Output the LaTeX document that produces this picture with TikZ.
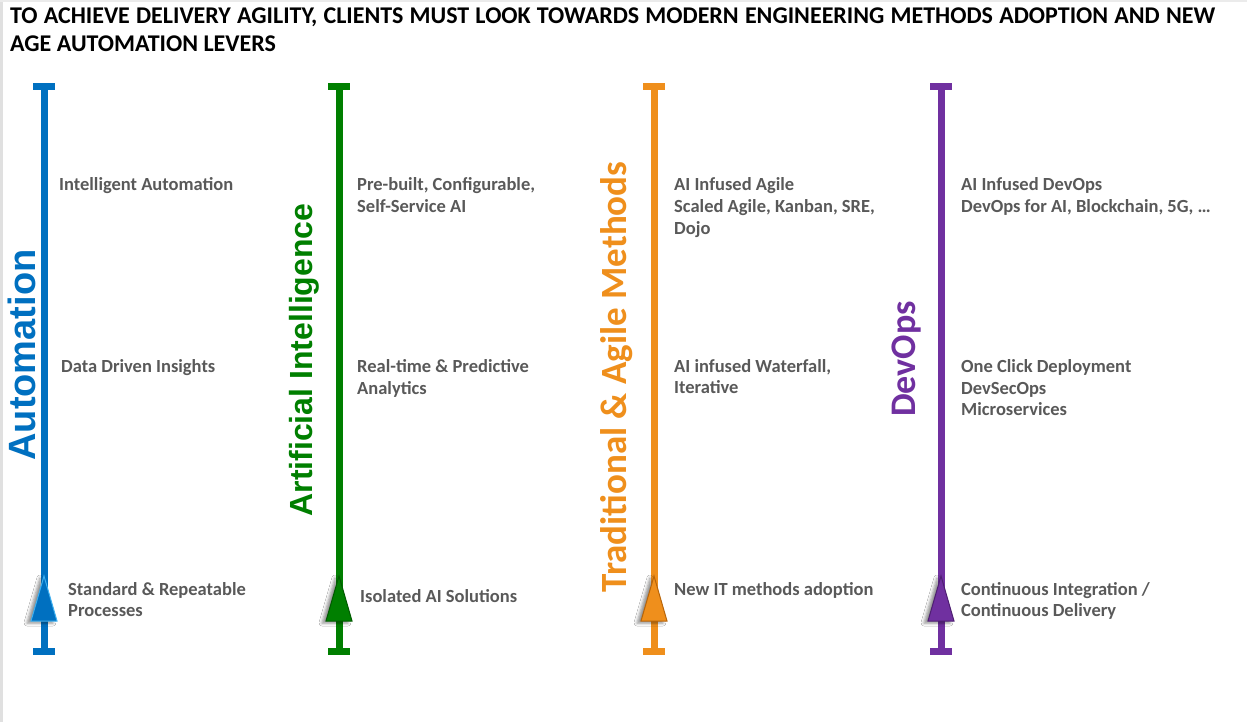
\documentclass[tikz,border=0pt]{standalone}
\usepackage{fontspec}
\setmainfont{Carlito}
\newfontfamily\arialfont{Liberation Sans}
\usetikzlibrary{shadows.blur}

\definecolor{autoblue}{HTML}{0070C0}
\definecolor{autoedge}{HTML}{3FB0F0}
\definecolor{aigreen}{HTML}{007F00}
\definecolor{aiedge}{HTML}{005A00}
\definecolor{agileorange}{HTML}{EF8F1C}
\definecolor{agileedge}{HTML}{B8650A}
\definecolor{devpurple}{HTML}{7030A0}
\definecolor{devedge}{HTML}{4E1F72}
\definecolor{textgray}{HTML}{595959}

\tikzset{
  item/.style={anchor=base west, inner sep=0pt, text=textgray,
    font=\fontsize{18.5}{22}\selectfont\bfseries},
  heading/.style={anchor=base west, inner sep=0pt, text=black,
    font=\fontsize{24}{28}\selectfont\bfseries},
  lane/.style={anchor=base, inner sep=0pt, rotate=90},
  rail/.style={line width=7pt},
  tip/.style={line width=1pt, line join=miter,
    blur shadow={shadow xshift=-4pt, shadow yshift=-2pt,
      shadow blur radius=3pt, shadow opacity=45}}
}

\begin{document}
\begin{tikzpicture}[x=1pt,y=-1pt]
\useasboundingbox (0,0) rectangle (1247,722);
\fill[white] (0,0) rectangle (1247,722);
% faint page edge
\fill[black!12] (0,0) rectangle (3,722);
\fill[black!8] (0,0) rectangle (1247,2);

% heading
\node[heading] (title1) at (10,24) {\makebox[1205pt][s]{TO ACHIEVE DELIVERY AGILITY, CLIENTS MUST LOOK TOWARDS MODERN ENGINEERING METHODS ADOPTION AND NEW}};
\node[heading] (title2) at (10,52) {AGE AUTOMATION LEVERS};

% the four timelines
\foreach \x/\c/\e/\n in {44/autoblue/autoedge/a, 339/aigreen/aiedge/b, 654/agileorange/agileedge/c, 941/devpurple/devedge/d}{
  \coordinate (\n top) at (\x,87);
  \coordinate (\n bot) at (\x,651);
  \coordinate (\n apex) at (\x,576);
  \draw[rail,\c] (\n top) -- (\n bot);
  \draw[rail,\c] ([xshift=-11pt]\n top) -- ([xshift=11pt]\n top);
  \draw[rail,\c] ([xshift=-11pt]\n bot) -- ([xshift=11pt]\n bot);
  \filldraw[tip, fill=\c, draw=\e] (\n apex) -- ([xshift=-13pt,yshift=-45pt]\n apex)
    -- ([xshift=13pt,yshift=-45pt]\n apex) -- cycle;
}

% lane titles
\node[lane, text=autoblue, font=\arialfont\bfseries\fontsize{38}{44}\selectfont] (lanea) at (35,355) {Automation};
\node[lane, text=aigreen, font=\arialfont\bfseries\fontsize{32}{38}\selectfont] (laneb) at (312,360) {Artificial Intelligence};
\node[lane, text=agileorange, font=\bfseries\fontsize{37}{43}\selectfont] (lanec) at (626,377) {Traditional \& Agile Methods};
\node[lane, text=devpurple, font=\bfseries\fontsize{36}{42}\selectfont] (laned) at (915,359) {DevOps};

% Automation
\node[item] (a1) at (59,191) {Intelligent Automation};
\node[item] (a2) at (61,372) {Data Driven Insights};
\node[item] (a3) at (68,595) {Standard \& Repeatable};
\node[item] (a4) at (68,616) {Processes};

% Artificial Intelligence
\node[item] (b1) at (357,191) {Pre-built, Configurable,};
\node[item] (b2) at (357,213) {Self-Service AI};
\node[item] (b3) at (357,372) {Real-time \& Predictive};
\node[item] (b4) at (357,394) {Analytics};
\node[item] (b5) at (360,602) {Isolated AI Solutions};

% Traditional & Agile Methods
\node[item] (c1) at (674,191) {AI Infused Agile};
\node[item] (c2) at (674,213) {Scaled Agile, Kanban, SRE,};
\node[item] (c3) at (674,234) {Dojo};
\node[item] (c4) at (674,372) {AI infused Waterfall,};
\node[item] (c5) at (674,393) {Iterative};
\node[item] (c6) at (674,595) {New IT methods adoption};

% DevOps
\node[item] (d1) at (961,191) {AI Infused DevOps};
\node[item] (d2) at (961,213) {DevOps for AI, Blockchain, 5G, …};
\node[item] (d3) at (961,372) {One Click Deployment};
\node[item] (d4) at (961,394) {DevSecOps};
\node[item] (d5) at (961,415) {Microservices};
\node[item] (d6) at (961,595) {Continuous Integration /};
\node[item] (d7) at (961,616) {Continuous Delivery};
\end{tikzpicture}
\end{document}
